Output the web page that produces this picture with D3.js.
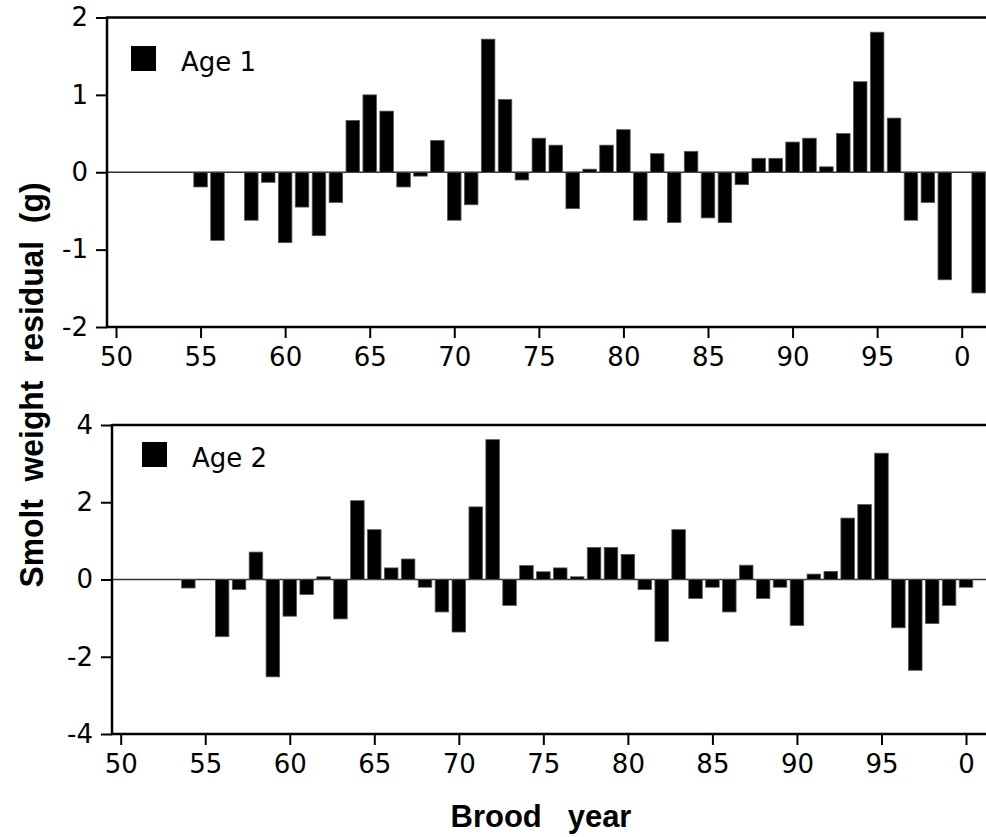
<!DOCTYPE html>
<html>
<head>
<meta charset="utf-8">
<script src="https://cdn.jsdelivr.net/npm/d3@7"></script>
<style>
  body { margin: 0; background: #fff; }
  svg { display: block; }
  .tick text { font-family: "DejaVu Sans", sans-serif; font-size: 26px; fill: #000; }
</style>
</head>
<body>
<div id="chart"></div>
<script>
var svgWidth = 986;
var svgHeight = 837;

// brood years (two digit, 101 = 2001) and residuals
var age1Years = [55, 56, 58, 59, 60, 61, 62, 63, 64, 65, 66, 67, 68, 69, 70, 71, 72, 73, 74, 75,
  76, 77, 78, 79, 80, 81, 82, 83, 84, 85, 86, 87, 88, 89, 90, 91, 92, 93, 94, 95, 96, 97, 98, 99, 101];
var age1Values = [-0.19, -0.88, -0.62, -0.13, -0.91, -0.45, -0.82, -0.39, 0.67, 1.00, 0.79, -0.19,
  -0.05, 0.41, -0.62, -0.42, 1.72, 0.94, -0.10, 0.44, 0.35, -0.47, 0.04, 0.35, 0.55, -0.62, 0.24,
  -0.65, 0.27, -0.59, -0.65, -0.16, 0.18, 0.18, 0.39, 0.44, 0.07, 0.50, 1.17, 1.81, 0.70, -0.62,
  -0.39, -1.39, -1.56];

var age2Years = [54, 56, 57, 58, 59, 60, 61, 62, 63, 64, 65, 66, 67, 68, 69, 70, 71, 72, 73, 74,
  75, 76, 77, 78, 79, 80, 81, 82, 83, 84, 85, 86, 87, 88, 89, 90, 91, 92, 93, 94, 95, 96, 97, 98, 99, 100];
var age2Values = [-0.22, -1.48, -0.26, 0.71, -2.52, -0.95, -0.39, 0.07, -1.02, 2.04, 1.29, 0.30,
  0.53, -0.20, -0.84, -1.36, 1.88, 3.62, -0.67, 0.36, 0.20, 0.30, 0.07, 0.83, 0.83, 0.65, -0.26,
  -1.60, 1.29, -0.49, -0.20, -0.84, 0.37, -0.49, -0.20, -1.19, 0.14, 0.21, 1.59, 1.94, 3.27, -1.25,
  -2.35, -1.14, -0.67, -0.20];

var xTicks = [50, 55, 60, 65, 70, 75, 80, 85, 90, 95, 100];
var age1YTicks = [-2, -1, 0, 1, 2];
var age2YTicks = [-4, -2, 0, 2, 4];

var svg = d3.select("#chart")
  .append("svg")
  .attr("width", svgWidth)
  .attr("height", svgHeight);

function drawPanel(opts) {
  var data = opts.years.map(function (y, i) { return { year: y, value: opts.values[i] }; });

  var x = d3.scaleLinear().domain([50, 100]).range([opts.x50, opts.x100]);
  var y = d3.scaleLinear().domain(opts.yDomain).range([opts.bottom, opts.top]);
  var barW = (x(51) - x(50)) * 0.8;

  var g = svg.append("g");

  // zero line
  g.append("line")
    .attr("x1", opts.left).attr("x2", svgWidth)
    .attr("y1", y(0)).attr("y2", y(0))
    .attr("stroke", "#333").attr("stroke-width", 1.5);

  g.selectAll("rect.bar")
    .data(data)
    .enter()
    .append("rect")
    .attr("class", "bar")
    .attr("x", function (d) { return x(d.year) - barW / 2; })
    .attr("width", barW)
    .attr("y", function (d) { return y(Math.max(0, d.value)); })
    .attr("height", function (d) { return Math.abs(y(d.value) - y(0)); })
    .attr("fill", "#000")
    .attr("stroke", "#555")
    .attr("stroke-width", 0.8);

  // top frame line
  g.append("line")
    .attr("x1", opts.left).attr("x2", svgWidth)
    .attr("y1", opts.top).attr("y2", opts.top)
    .attr("stroke", "#000").attr("stroke-width", 2.5);

  var xAxis = d3.axisBottom(x)
    .tickValues(xTicks)
    .tickSize(11)
    .tickPadding(10)
    .tickFormat(function (d) { return d % 100; });

  var xg = g.append("g")
    .attr("transform", "translate(0," + opts.bottom + ")")
    .call(xAxis);
  xg.select(".domain").remove();
  xg.selectAll(".tick line").attr("stroke-width", 2);
  xg.append("line")
    .attr("x1", opts.left - 1).attr("x2", svgWidth)
    .attr("stroke", "#000").attr("stroke-width", 2.5);

  var yAxis = d3.axisLeft(y)
    .tickValues(opts.yTicks)
    .tickSize(11)
    .tickPadding(8)
    .tickFormat(function (d) { return d < 0 ? "-" + Math.abs(d) : String(d); });

  var yg = g.append("g")
    .attr("transform", "translate(" + opts.left + ",0)")
    .call(yAxis);
  yg.select(".domain").remove();
  yg.selectAll(".tick line").attr("stroke-width", 2);
  yg.append("line")
    .attr("y1", opts.top - 1).attr("y2", opts.bottom + 1)
    .attr("stroke", "#000").attr("stroke-width", 2.5);

  // legend
  g.append("rect")
    .attr("x", opts.legendX).attr("y", opts.legendY)
    .attr("width", 25).attr("height", 25)
    .attr("fill", "#000");
  g.append("text")
    .attr("x", opts.legendX + 50)
    .attr("y", opts.legendY + 25)
    .attr("font-family", "DejaVu Sans, sans-serif")
    .attr("font-size", "26px")
    .text(opts.label);
}

drawPanel({
  years: age1Years, values: age1Values, yDomain: [-2, 2], yTicks: age1YTicks,
  left: 107, top: 17.5, bottom: 327, x50: 116, x100: 961.7,
  legendX: 131, legendY: 46, label: "Age 1"
});

drawPanel({
  years: age2Years, values: age2Values, yDomain: [-4, 4], yTicks: age2YTicks,
  left: 112, top: 425, bottom: 734, x50: 120.7, x100: 966,
  legendX: 142, legendY: 442, label: "Age 2"
});

// axis labels
svg.append("text")
  .attr("transform", "translate(31, 385) rotate(-90)")
  .attr("text-anchor", "middle")
  .attr("dominant-baseline", "central")
  .attr("font-family", "Liberation Sans, sans-serif")
  .attr("font-weight", "bold")
  .attr("font-size", "33px")
  .attr("textLength", 405)
  .attr("lengthAdjust", "spacingAndGlyphs")
  .style("white-space", "pre")
  .text("Smolt  weight  residual  (g)");

svg.append("text")
  .attr("x", 541)
  .attr("y", 827)
  .attr("text-anchor", "middle")
  .attr("font-family", "Liberation Sans, sans-serif")
  .attr("font-weight", "bold")
  .attr("font-size", "31px")
  .style("white-space", "pre")
  .text("Brood   year");
</script>
</body>
</html>
